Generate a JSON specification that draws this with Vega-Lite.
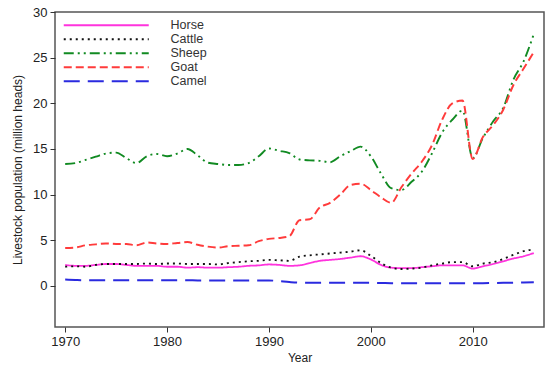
{
  "$schema": "https://vega.github.io/schema/vega-lite/v6.json",
  "autosize": "none",
  "padding": {"left": 55, "top": 12, "right": 6, "bottom": 45},
  "width": 489,
  "height": 315,
  "background": "white",
  "config": {
    "font": "Liberation Sans",
    "view": {"stroke": "#555555", "strokeWidth": 1.5},
    "axis": {"labelFont": "Liberation Sans", "titleFont": "Liberation Sans", "labelColor": "#222222", "titleColor": "#222222", "tickColor": "#333333", "domain": false, "grid": false, "labelFontSize": 13, "titleFontSize": 12, "titleFontWeight": "normal", "tickSize": 5}
  },
  "data": {"values": [
    {"year": 1970, "Horse": 2.3, "Cattle": 2.1, "Sheep": 13.35, "Goat": 4.15, "Camel": 0.7},
    {"year": 1971, "Horse": 2.2, "Cattle": 2.15, "Sheep": 13.45, "Goat": 4.2, "Camel": 0.65},
    {"year": 1972, "Horse": 2.2, "Cattle": 2.1, "Sheep": 13.8, "Goat": 4.45, "Camel": 0.62},
    {"year": 1973, "Horse": 2.3, "Cattle": 2.3, "Sheep": 14.15, "Goat": 4.55, "Camel": 0.62},
    {"year": 1974, "Horse": 2.4, "Cattle": 2.4, "Sheep": 14.5, "Goat": 4.65, "Camel": 0.62},
    {"year": 1975, "Horse": 2.4, "Cattle": 2.4, "Sheep": 14.6, "Goat": 4.6, "Camel": 0.62},
    {"year": 1976, "Horse": 2.3, "Cattle": 2.4, "Sheep": 14.0, "Goat": 4.6, "Camel": 0.62},
    {"year": 1977, "Horse": 2.2, "Cattle": 2.4, "Sheep": 13.45, "Goat": 4.45, "Camel": 0.62},
    {"year": 1978, "Horse": 2.2, "Cattle": 2.45, "Sheep": 14.2, "Goat": 4.75, "Camel": 0.62},
    {"year": 1979, "Horse": 2.2, "Cattle": 2.4, "Sheep": 14.45, "Goat": 4.65, "Camel": 0.62},
    {"year": 1980, "Horse": 2.1, "Cattle": 2.45, "Sheep": 14.2, "Goat": 4.6, "Camel": 0.62},
    {"year": 1981, "Horse": 2.1, "Cattle": 2.45, "Sheep": 14.5, "Goat": 4.7, "Camel": 0.62},
    {"year": 1982, "Horse": 2.0, "Cattle": 2.4, "Sheep": 15.0, "Goat": 4.8, "Camel": 0.62},
    {"year": 1983, "Horse": 2.05, "Cattle": 2.4, "Sheep": 14.3, "Goat": 4.5, "Camel": 0.6},
    {"year": 1984, "Horse": 2.0, "Cattle": 2.4, "Sheep": 13.5, "Goat": 4.3, "Camel": 0.6},
    {"year": 1985, "Horse": 2.0, "Cattle": 2.35, "Sheep": 13.35, "Goat": 4.2, "Camel": 0.6},
    {"year": 1986, "Horse": 2.05, "Cattle": 2.5, "Sheep": 13.25, "Goat": 4.35, "Camel": 0.6},
    {"year": 1987, "Horse": 2.1, "Cattle": 2.6, "Sheep": 13.25, "Goat": 4.4, "Camel": 0.6},
    {"year": 1988, "Horse": 2.2, "Cattle": 2.7, "Sheep": 13.45, "Goat": 4.45, "Camel": 0.6},
    {"year": 1989, "Horse": 2.25, "Cattle": 2.75, "Sheep": 14.2, "Goat": 4.9, "Camel": 0.6},
    {"year": 1990, "Horse": 2.35, "Cattle": 2.85, "Sheep": 15.05, "Goat": 5.15, "Camel": 0.6},
    {"year": 1991, "Horse": 2.3, "Cattle": 2.8, "Sheep": 14.8, "Goat": 5.25, "Camel": 0.52},
    {"year": 1992, "Horse": 2.2, "Cattle": 2.75, "Sheep": 14.55, "Goat": 5.45, "Camel": 0.42},
    {"year": 1993, "Horse": 2.25, "Cattle": 3.2, "Sheep": 13.85, "Goat": 7.2, "Camel": 0.36},
    {"year": 1994, "Horse": 2.5, "Cattle": 3.35, "Sheep": 13.75, "Goat": 7.3, "Camel": 0.36},
    {"year": 1995, "Horse": 2.75, "Cattle": 3.45, "Sheep": 13.7, "Goat": 8.6, "Camel": 0.36},
    {"year": 1996, "Horse": 2.85, "Cattle": 3.55, "Sheep": 13.55, "Goat": 9.1, "Camel": 0.36},
    {"year": 1997, "Horse": 2.95, "Cattle": 3.65, "Sheep": 14.2, "Goat": 10.0, "Camel": 0.35},
    {"year": 1998, "Horse": 3.1, "Cattle": 3.75, "Sheep": 14.75, "Goat": 11.05, "Camel": 0.35},
    {"year": 1999, "Horse": 3.25, "Cattle": 3.9, "Sheep": 15.25, "Goat": 11.2, "Camel": 0.35},
    {"year": 2000, "Horse": 2.9, "Cattle": 3.3, "Sheep": 14.2, "Goat": 10.5, "Camel": 0.33},
    {"year": 2001, "Horse": 2.3, "Cattle": 2.5, "Sheep": 12.3, "Goat": 9.7, "Camel": 0.32},
    {"year": 2002, "Horse": 2.0, "Cattle": 2.0, "Sheep": 10.7, "Goat": 9.1, "Camel": 0.3},
    {"year": 2003, "Horse": 1.95, "Cattle": 1.85, "Sheep": 10.5, "Goat": 10.8, "Camel": 0.3},
    {"year": 2004, "Horse": 1.95, "Cattle": 1.9, "Sheep": 11.4, "Goat": 12.3, "Camel": 0.3},
    {"year": 2005, "Horse": 2.05, "Cattle": 2.0, "Sheep": 12.5, "Goat": 13.6, "Camel": 0.3},
    {"year": 2006, "Horse": 2.15, "Cattle": 2.25, "Sheep": 14.5, "Goat": 15.4, "Camel": 0.3},
    {"year": 2007, "Horse": 2.25, "Cattle": 2.45, "Sheep": 16.8, "Goat": 18.2, "Camel": 0.3},
    {"year": 2008, "Horse": 2.25, "Cattle": 2.6, "Sheep": 18.2, "Goat": 20.0, "Camel": 0.3},
    {"year": 2009, "Horse": 2.25, "Cattle": 2.6, "Sheep": 19.2, "Goat": 20.3, "Camel": 0.3},
    {"year": 2010, "Horse": 1.9, "Cattle": 2.15, "Sheep": 14.0, "Goat": 13.9, "Camel": 0.3},
    {"year": 2011, "Horse": 2.15, "Cattle": 2.45, "Sheep": 16.2, "Goat": 16.3, "Camel": 0.3},
    {"year": 2012, "Horse": 2.4, "Cattle": 2.6, "Sheep": 18.0, "Goat": 17.6, "Camel": 0.32},
    {"year": 2013, "Horse": 2.7, "Cattle": 2.95, "Sheep": 19.5, "Goat": 19.3, "Camel": 0.34},
    {"year": 2014, "Horse": 3.0, "Cattle": 3.4, "Sheep": 22.6, "Goat": 22.0, "Camel": 0.36},
    {"year": 2015, "Horse": 3.25, "Cattle": 3.8, "Sheep": 24.6, "Goat": 23.8, "Camel": 0.38},
    {"year": 2016, "Horse": 3.6, "Cattle": 4.0, "Sheep": 27.6, "Goat": 25.6, "Camel": 0.4}
  ]},
  "transform": [{"fold": ["Horse", "Cattle", "Sheep", "Goat", "Camel"], "as": ["species", "value"]}],
  "mark": {"type": "line", "interpolate": "monotone", "clip": true},
  "encoding": {
    "x": {"field": "year", "type": "quantitative", "scale": {"domain": [1969, 2017], "nice": false, "zero": false},
      "axis": {"values": [1970, 1980, 1990, 2000, 2010], "format": "d", "title": "Year", "labelPadding": 3, "titlePadding": 4}},
    "y": {"field": "value", "type": "quantitative", "scale": {"domain": [-4.5, 30], "nice": false, "zero": false},
      "axis": {"values": [0, 5, 10, 15, 20, 25, 30], "title": "Livestock population (million heads)", "labelPadding": 3, "titlePadding": 8}},
    "color": {"field": "species", "type": "nominal",
      "scale": {"domain": ["Horse", "Cattle", "Sheep", "Goat", "Camel"], "range": ["#ff33dd", "#111111", "#118a22", "#ff3b3b", "#2a2adf"]},
      "legend": {"title": null, "orient": "none", "legendX": 45, "legendY": 7, "symbolType": "M-10,0H10", "symbolSize": 72.25, "labelFontSize": 12.5, "labelColor": "#333333", "labelOffset": 58, "rowPadding": 1, "padding": 0}},
    "strokeDash": {"field": "species", "type": "nominal",
      "scale": {"domain": ["Horse", "Cattle", "Sheep", "Goat", "Camel"], "range": [[1, 0], [2, 4], [10, 4, 2, 4, 2, 4], [8, 4], [16, 8]]}},
    "strokeWidth": {"field": "species", "type": "nominal",
      "scale": {"domain": ["Horse", "Cattle", "Sheep", "Goat", "Camel"], "range": [1.8, 2, 3.2, 2, 2]}}
  }
}
